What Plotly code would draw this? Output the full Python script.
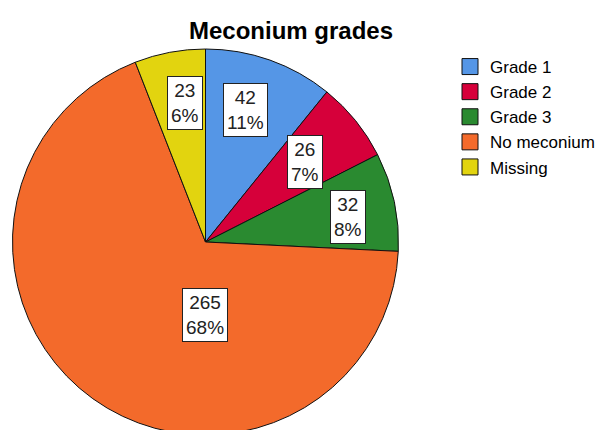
import math
import plotly.graph_objects as go

# meconium grade counts
categories = ["Grade 1", "Grade 2", "Grade 3", "No meconium", "Missing"]
counts = [42, 26, 32, 265, 23]
colors = ["#5596E6", "#D6003A", "#2A8A30", "#F36A2B", "#E2D40F"]

W, H = 614, 430
OFF = 8  # page body margin shifts the figure by this much
cx, cy, R = 205.5 - OFF, 242 - OFF, 193  # pie centre / radius in figure pixels

fig = go.Figure()
fig.add_trace(
    go.Pie(
        labels=categories,
        values=counts,
        sort=False,
        direction="clockwise",
        textinfo="none",
        hoverinfo="label+value+percent",
        showlegend=False,
        marker=dict(colors=colors, line=dict(color="#111111", width=1)),
        domain=dict(
            x=[(cx - R) / W, (cx + R) / W],
            y=[(H - cy - R) / H, (H - cy + R) / H],
        ),
    )
)

# legend-only entries so the swatches can be bigger than the pie default
for name, col in zip(categories, colors):
    fig.add_trace(
        go.Scatter(
            x=[None],
            y=[None],
            mode="markers",
            name=name,
            marker=dict(symbol="square", size=16, color=col,
                        line=dict(color="#111111", width=1)),
        )
    )

# boxed count / percent labels, placed along each slice's mid angle
label_r = [0.716, 0.66, 0.75, 0.38, 0.728]
angle_override = {0: 17, 2: 80, 3: 180, 4: 351.5}
total = sum(counts)
cum = 0
for i, v in enumerate(counts):
    mid = (cum + v / 2) / total * 360
    cum += v
    a = math.radians(angle_override.get(i, mid))
    px = cx + label_r[i] * R * math.sin(a)
    py = cy - label_r[i] * R * math.cos(a)
    pct = round(v / total * 100)
    fig.add_annotation(
        x=px / W,
        y=1 - py / H,
        xref="paper",
        yref="paper",
        text=f"{v}<br>{pct}%",
        showarrow=False,
        xanchor="center",
        yanchor="middle",
        align="center",
        bgcolor="white",
        bordercolor="#222222",
        borderwidth=1,
        borderpad=3,
        font=dict(family="Liberation Sans, Arial", size=19, color="#222222"),
    )

fig.update_layout(
    width=W,
    height=H,
    margin=dict(l=0, r=0, t=0, b=0),
    paper_bgcolor="white",
    plot_bgcolor="white",
    font=dict(family="Liberation Sans, Arial", color="black"),
    xaxis=dict(visible=False),
    yaxis=dict(visible=False),
    title=dict(
        text="<b>Meconium grades</b>",
        x=(291 - OFF) / W,
        xanchor="center",
        y=1 - (31 - OFF) / H,
        yanchor="middle",
        font=dict(size=24, color="black"),
    ),
    legend=dict(
        x=(450 - OFF) / W,
        y=1 - 41 / H,
        xanchor="left",
        yanchor="top",
        font=dict(size=17, color="black"),
        bgcolor="rgba(0,0,0,0)",
    ),
    showlegend=True,
)

fig.write_html("out.html")
